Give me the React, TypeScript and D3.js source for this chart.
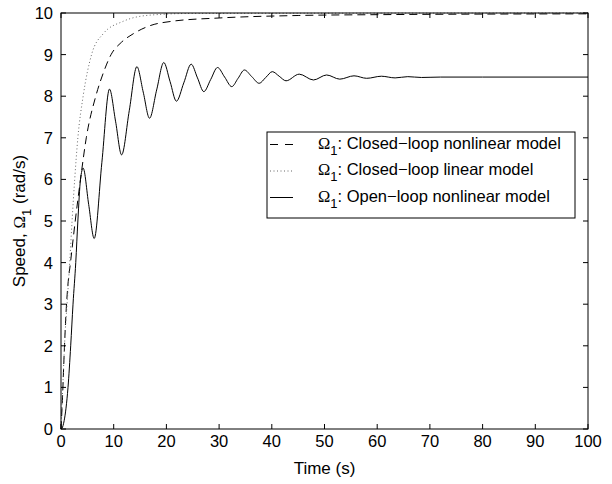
import React from 'react';
import * as d3 from 'd3';

const xTicks = [0, 10, 20, 30, 40, 50, 60, 70, 80, 90, 100];
const yTicks = [0, 1, 2, 3, 4, 5, 6, 7, 8, 9, 10];

const closedNonlinear: [number, number][] = [
  [0, 0], [0.3, 0.8], [0.6, 1.8], [1.0, 2.9], [1.3, 3.45], [1.8, 4.0], [2.7, 5.0], [3.7, 6.0],
  [4.8, 7.0], [6.6, 8.0], [8.0, 8.55], [9.5, 9.0], [11.5, 9.3], [13.7, 9.5], [17, 9.7], [21, 9.8],
  [30, 9.88], [45, 9.94], [60, 9.96], [100, 9.98],
];

const closedLinear: [number, number][] = [
  [0, 0], [0.3, 0.9], [0.7, 2.1], [1.2, 3.1], [1.65, 4.0], [2.1, 5.0], [2.6, 6.0], [3.2, 7.0],
  [4.2, 8.0], [5.8, 9.0], [8, 9.5], [11.8, 9.8], [17, 9.95], [25, 9.99], [100, 10],
];

const openNonlinear: [number, number][] = [
  [0, 0], [0.2, 0.02], [0.6, 0.2], [0.95, 0.5], [1.33, 1.0], [1.84, 2.0], [2.28, 3.0], [2.8, 4.0],
  [3.2, 5.0], [3.7, 6.0], [4.2, 6.27], [5.25, 5.4], [6.3, 4.58], [7.75, 6.4], [9.2, 8.17],
  [10.35, 7.4], [11.5, 6.59], [12.95, 7.65], [14.4, 8.71], [15.6, 8.1], [16.8, 7.47],
  [18.15, 8.15], [19.5, 8.81], [20.7, 8.35], [21.9, 7.88], [23.3, 8.32], [24.7, 8.77],
  [25.9, 8.44], [27.1, 8.11], [28.4, 8.4], [29.7, 8.69], [31.05, 8.46], [32.4, 8.23],
  [33.6, 8.43], [34.8, 8.63], [36.2, 8.47], [37.6, 8.31], [38.85, 8.45], [40.1, 8.59],
  [41.4, 8.48], [42.7, 8.37], [45.2, 8.53], [47.9, 8.39], [50.4, 8.51], [52.9, 8.41],
  [55.6, 8.49], [58, 8.43], [60.8, 8.48], [63.4, 8.44], [65.8, 8.47], [68.4, 8.45],
  [72, 8.46], [80, 8.46], [100, 8.46],
];

const legendLabels = [
  ': Closed\u2212loop nonlinear model',
  ': Closed\u2212loop linear model',
  ': Open\u2212loop nonlinear model',
];

const SANS = '"Liberation Sans", Arial, Helvetica, sans-serif';
const SERIF = '"Liberation Serif", "Times New Roman", serif';

export default function App() {
  const W = 612;
  const H = 484;
  const x = d3.scaleLinear().domain([0, 100]).range([61, 588]);
  const y = d3.scaleLinear().domain([0, 10]).range([429, 13]);
  const line = d3
    .line<[number, number]>()
    .x((d) => x(d[0]))
    .y((d) => y(d[1]))
    .curve(d3.curveMonotoneX);

  const [x0, x1] = x.range();
  const [y0, y1] = y.range();
  const tickLen = 5;

  const series = [
    { data: closedNonlinear, dash: '8 5', color: '#000', legendDash: '8 7' },
    { data: closedLinear, dash: '1 2.5', color: '#666', legendDash: '1 2.5' },
    { data: openNonlinear, dash: undefined, color: '#000', legendDash: undefined },
  ];

  const legX = 267;
  const legY = 132;
  const legW = 308;
  const legH = 86;
  const rowY = [144.5, 171, 197.5];

  return (
    <svg
      width={W}
      height={H}
      style={{ position: 'absolute', left: 0, top: 0, background: '#fff' }}
    >
      <rect x={0} y={0} width={W} height={H} fill="#fff" />
      {series.map((s, i) => (
        <path
          key={i}
          d={line(s.data) || ''}
          fill="none"
          stroke={s.color}
          strokeWidth={1}
          strokeDasharray={s.dash}
        />
      ))}
      <rect x={x0} y={y1} width={x1 - x0} height={y0 - y1} fill="none" stroke="#000" strokeWidth={1} />
      {xTicks.map((t) => (
        <g key={'xt' + t}>
          <line x1={x(t)} x2={x(t)} y1={y0} y2={y0 - tickLen} stroke="#000" />
          <line x1={x(t)} x2={x(t)} y1={y1} y2={y1 + tickLen} stroke="#000" />
          <text x={x(t)} y={y0 + 18} textAnchor="middle" fontFamily={SANS} fontSize={16.5}>
            {t}
          </text>
        </g>
      ))}
      {yTicks.map((t) => (
        <g key={'yt' + t}>
          <line x1={x0} x2={x0 + tickLen} y1={y(t)} y2={y(t)} stroke="#000" />
          <line x1={x1} x2={x1 - tickLen} y1={y(t)} y2={y(t)} stroke="#000" />
          <text x={x0 - 8} y={y(t) + 6} textAnchor="end" fontFamily={SANS} fontSize={16.5}>
            {t}
          </text>
        </g>
      ))}
      <text x={(x0 + x1) / 2} y={474} textAnchor="middle" fontFamily={SANS} fontSize={17}>
        Time (s)
      </text>
      <text
        transform={`translate(25, ${(y0 + y1) / 2}) rotate(-90)`}
        textAnchor="middle"
        fontFamily={SANS}
        fontSize={17}
      >
        Speed,{' '}
        <tspan fontFamily={SERIF}>{'\u03A9'}</tspan>
        <tspan fontSize={13} dy={6}>1</tspan>
        <tspan dy={-6}> (rad/s)</tspan>
      </text>
      <rect x={legX} y={legY} width={legW} height={legH} fill="#fff" stroke="#000" strokeWidth={1} />
      {series.map((s, i) => (
        <g key={'lg' + i}>
          <line
            x1={270}
            x2={293}
            y1={rowY[i]}
            y2={rowY[i]}
            stroke={s.color}
            strokeWidth={1}
            strokeDasharray={s.legendDash}
          />
          <text x={318} y={rowY[i] + 4} fontFamily={SANS} fontSize={16.5}>
            <tspan fontFamily={SERIF}>{'\u03A9'}</tspan>
            <tspan fontSize={13} dy={6}>1</tspan>
            <tspan dy={-6}>{legendLabels[i]}</tspan>
          </text>
        </g>
      ))}
    </svg>
  );
}
